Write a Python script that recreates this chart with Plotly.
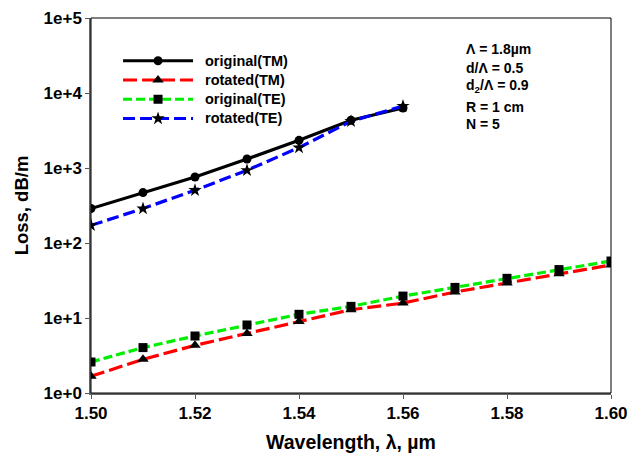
import plotly.graph_objects as go

wl_tm = [1.50, 1.51, 1.52, 1.53, 1.54, 1.55, 1.56]
orig_tm = [288, 470, 759, 1318, 2340, 4330, 6310]
rot_te_x = [1.50, 1.51, 1.52, 1.53, 1.54, 1.55, 1.56]
rot_te = [172, 288, 505, 932, 1870, 4200, 6700]

wl_all = [1.50, 1.51, 1.52, 1.53, 1.54, 1.55, 1.56, 1.57, 1.58, 1.59, 1.60]
rot_tm = [1.67, 2.81, 4.32, 6.2, 9.0, 12.9, 15.8, 22.2, 29.3, 39.0, 50.9]
orig_te = [2.59, 4.03, 5.75, 8.07, 11.2, 14.3, 19.6, 25.6, 33.8, 44.2, 57.5]

y_tickvals = [1, 10, 100, 1000, 10000, 100000]
y_ticktext = ["1e+0", "1e+1", "1e+2", "1e+3", "1e+4", "1e+5"]
x_tickvals = [1.50, 1.52, 1.54, 1.56, 1.58, 1.60]
x_ticktext = ["1.50", "1.52", "1.54", "1.56", "1.58", "1.60"]

FONT = "Liberation Sans, Arial, sans-serif"


def leg(name):
    return '\u00a0\u00a0<span style="font-size:14.5px"><b>%s</b></span>' % name


fig = go.Figure()
fig.add_trace(go.Scatter(x=wl_tm, y=orig_tm, name=leg("original(TM)"), mode="lines+markers",
                         line=dict(color="black", width=3.2),
                         marker=dict(symbol="circle", size=9, color="black")))
fig.add_trace(go.Scatter(x=wl_all, y=rot_tm, name=leg("rotated(TM)"), mode="lines+markers",
                         line=dict(color="#ff0000", width=3.2, dash="14px,5px"),
                         marker=dict(symbol="triangle-up", size=10, color="black")))
fig.add_trace(go.Scatter(x=wl_all, y=orig_te, name=leg("original(TE)"), mode="lines+markers",
                         line=dict(color="#00ee00", width=3.2, dash="9px,4px"),
                         marker=dict(symbol="square", size=9, color="black")))
fig.add_trace(go.Scatter(x=rot_te_x, y=rot_te, name=leg("rotated(TE)"), mode="lines+markers",
                         line=dict(color="#0000ff", width=3.2, dash="12px,5px"),
                         marker=dict(symbol="star", size=10, color="black")))

params = ["<b>Λ = 1.8µm</b>", "<b>d/Λ = 0.5</b>", "<b>d<sub>2</sub>/Λ = 0.9</b>",
          "<b>R = 1 cm</b>", "<b>N = 5</b>"]
ann_y = [49.5, 68, 85.5, 106.5, 123.5]
for t, yy in zip(params, ann_y):
    fig.add_annotation(text=t, xref="paper", yref="paper",
                       x=(464 - 91) / 520, y=(393 - yy) / 375,
                       xanchor="left", yanchor="middle", showarrow=False,
                       font=dict(family=FONT, size=14, color="black"))

fig.add_shape(type="rect", xref="paper", yref="paper", x0=0, y0=0, x1=1, y1=1,
              line=dict(color="black", width=1), layer="above")

fig.update_layout(
    width=633, height=445,
    margin=dict(l=83, r=30, t=10, b=60),
    paper_bgcolor="white", plot_bgcolor="white",
    font=dict(family=FONT, color="black"),
    showlegend=True,
    legend=dict(x=0.052, y=0.925, xanchor="left", yanchor="top",
                bgcolor="rgba(0,0,0,0)", font=dict(family=FONT, size=12.5),
                itemwidth=70, tracegroupgap=0),
    xaxis=dict(range=[1.50, 1.60], tickvals=x_tickvals, automargin=False,
               ticktext=["<b>%s</b>" % t for t in x_ticktext],
               ticks="outside", ticklen=4, tickcolor="#555", tickwidth=1,
               showline=True, linecolor="#666", linewidth=1.5, showgrid=False, zeroline=False,
               tickfont=dict(family=FONT, size=17, color="black"),
               title=dict(text="<b>Wavelength, λ, µm</b>", font=dict(family=FONT, size=19.5), standoff=16)),
    yaxis=dict(type="log", range=[0, 5], tickvals=y_tickvals, automargin=False,
               ticktext=["<b>%s</b>" % t for t in y_ticktext],
               ticks="outside", ticklen=4, tickcolor="#555", tickwidth=1,
               showline=True, linecolor="#666", linewidth=1.5, showgrid=False, zeroline=False,
               tickfont=dict(family=FONT, size=17, color="black"),
               title=dict(text="<b>Loss, dB/m</b>", font=dict(family=FONT, size=18.5), standoff=10)),
)

fig.write_html("out.html")
